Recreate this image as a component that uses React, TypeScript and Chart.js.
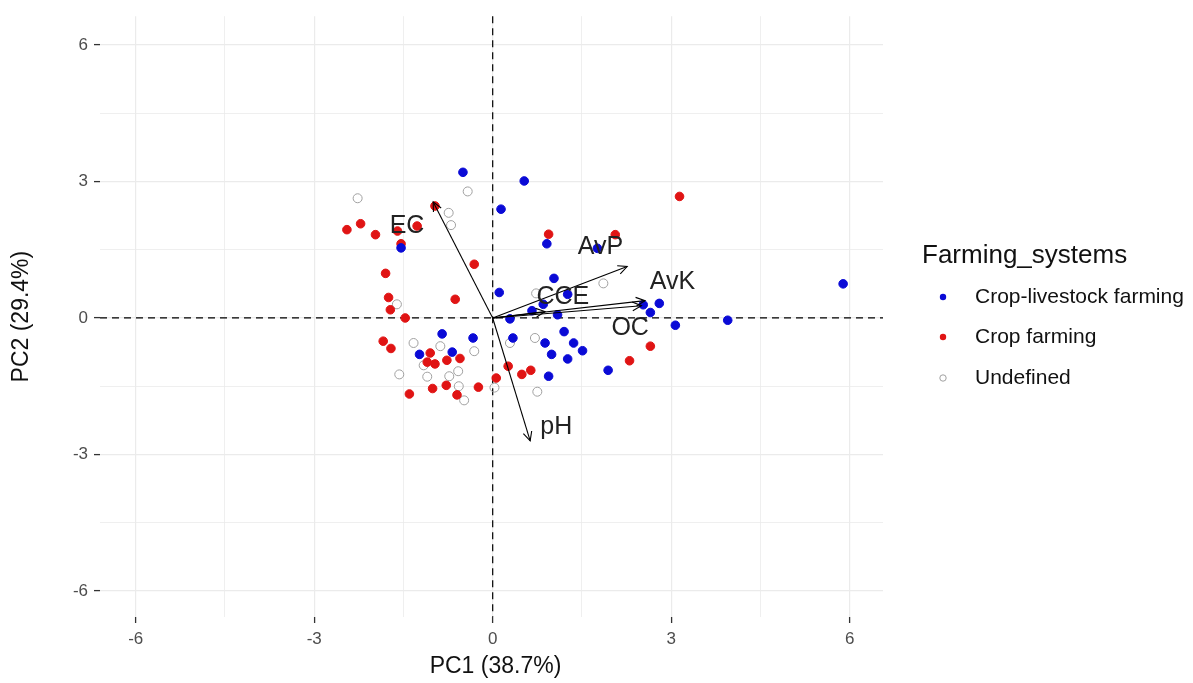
import React, { useEffect, useRef } from "react";
import { Chart, registerables } from "chart.js";

Chart.register(...registerables);

// ---- Data ----
const seriesNames = ["Crop-livestock farming", "Crop farming", "Undefined"];

const cropLivestockX = [-0.5, 0.53, 0.14, -1.54, 0.91, 1.76, 1.03, 0.11, 1.26, 0.85, 0.66, 1.09, 0.29, 2.53, 2.8, 2.65, 3.07, 1.94, 1.2, 0.88, 1.36, 1.51, 0.99, 1.26, 0.94, 0.34, -0.85, -0.33, -1.23, -0.68, 5.89, 3.95];
const cropLivestockY = [3.2, 3.01, 2.39, 1.54, 1.63, 1.53, 0.87, 0.56, 0.52, 0.3, 0.16, 0.07, -0.02, 0.29, 0.32, 0.12, -0.16, -1.15, -0.3, -0.55, -0.55, -0.72, -0.8, -0.9, -1.28, -0.44, -0.35, -0.44, -0.8, -0.75, 0.75, -0.05];

const cropFarmingX = [-0.97, -2.45, -2.22, -1.97, -1.6, -1.27, -1.54, -0.31, -1.8, -1.75, -1.72, -1.47, -0.63, -1.84, -1.71, -1.05, -0.55, -0.77, -1.1, -0.97, 0.26, 0.49, 0.64, 0.06, -1.4, -1.01, -0.78, -0.6, -0.24, 0.94, 2.06, 3.14, 2.65, 2.3];
const cropFarmingY = [2.46, 1.94, 2.07, 1.83, 1.91, 2.02, 1.63, 1.18, 0.98, 0.45, 0.18, 0.0, 0.41, -0.51, -0.67, -0.77, -0.89, -0.93, -0.97, -1.01, -1.06, -1.24, -1.15, -1.32, -1.67, -1.55, -1.48, -1.69, -1.52, 1.84, 1.83, 2.67, -0.62, -0.94];

const undefinedX = [-2.27, -0.42, -0.74, -0.7, -1.61, -1.33, -0.88, -0.31, -1.16, -0.58, -0.73, -1.57, -1.1, 0.03, -0.57, -0.48, 0.29, 0.71, 1.86, 0.75, 0.73];
const undefinedY = [2.63, 2.78, 2.31, 2.04, 0.3, -0.55, -0.62, -0.73, -1.04, -1.17, -1.28, -1.24, -1.29, -1.53, -1.5, -1.81, -0.55, -0.44, 0.76, -1.62, 0.54];

// Variable loading arrows
const varNames = ["EC", "AvP", "AvK", "OC", "CCE", "pH"];
const varTipX = [-1.0, 2.26, 2.56, 2.5, 0.88, 0.63];
const varTipY = [2.55, 1.13, 0.38, 0.27, 0.14, -2.7];
const varLabelX = [-1.44, 1.81, 3.02, 2.31, 1.18, 1.07];
const varLabelY = [2.02, 1.56, 0.78, -0.23, 0.45, -2.39];

const axisTicks = [-6, -4.5, -3, -1.5, 0, 1.5, 3, 4.5, 6];
const xLabel = "PC1 (38.7%)";
const yLabel = "PC2 (29.4%)";
const legendTitle = "Farming_systems";

const colors = ["#0a0ad6", "#e01414", "#a0a0a0"];

const FONT = '"Liberation Sans", Arial, sans-serif';

function toPoints(xs: number[], ys: number[]) {
  return xs.map((x, i) => ({ x, y: ys[i] }));
}

function drawArrow(ctx: CanvasRenderingContext2D, x0: number, y0: number, x1: number, y1: number) {
  const ang = Math.atan2(y1 - y0, x1 - x0);
  const head = 10;
  const spread = Math.PI / 7;
  ctx.beginPath();
  ctx.moveTo(x0, y0);
  ctx.lineTo(x1, y1);
  ctx.stroke();
  ctx.beginPath();
  ctx.moveTo(x1 - head * Math.cos(ang - spread), y1 - head * Math.sin(ang - spread));
  ctx.lineTo(x1, y1);
  ctx.lineTo(x1 - head * Math.cos(ang + spread), y1 - head * Math.sin(ang + spread));
  ctx.stroke();
}

const biplotPlugin = {
  id: "biplot",
  beforeDatasetsDraw(chart: any) {
    const { ctx, chartArea, scales } = chart;
    const x0 = scales.x.getPixelForValue(0);
    const y0 = scales.y.getPixelForValue(0);
    ctx.save();
    ctx.strokeStyle = "#000";
    ctx.lineWidth = 1.2;
    ctx.setLineDash([7, 5]);
    ctx.beginPath();
    ctx.moveTo(chartArea.left, y0);
    ctx.lineTo(chartArea.right, y0);
    ctx.moveTo(x0, chartArea.top);
    ctx.lineTo(x0, chartArea.bottom);
    ctx.stroke();
    ctx.restore();
  },
  afterDatasetsDraw(chart: any) {
    const { ctx, scales } = chart;
    const ox = scales.x.getPixelForValue(0);
    const oy = scales.y.getPixelForValue(0);
    ctx.save();
    ctx.strokeStyle = "#000";
    ctx.lineWidth = 1.1;
    ctx.setLineDash([]);
    varNames.forEach((_, i) => {
      drawArrow(ctx, ox, oy, scales.x.getPixelForValue(varTipX[i]), scales.y.getPixelForValue(varTipY[i]));
    });
    ctx.fillStyle = "#222";
    ctx.font = `25px ${FONT}`;
    ctx.textAlign = "center";
    ctx.textBaseline = "middle";
    varNames.forEach((name, i) => {
      ctx.fillText(name, scales.x.getPixelForValue(varLabelX[i]), scales.y.getPixelForValue(varLabelY[i]));
    });
    ctx.restore();
  },
  afterDraw(chart: any) {
    const { ctx, chartArea } = chart;
    ctx.save();
    // axis titles
    ctx.fillStyle = "#111";
    ctx.font = `23px ${FONT}`;
    ctx.textAlign = "center";
    ctx.textBaseline = "middle";
    ctx.fillText(xLabel, (chartArea.left + chartArea.right) / 2 + 4, 667);
    ctx.save();
    ctx.translate(22, (chartArea.top + chartArea.bottom) / 2);
    ctx.rotate(-Math.PI / 2);
    ctx.fillText(yLabel, 0, 0);
    ctx.restore();
    // legend
    ctx.textAlign = "left";
    ctx.fillStyle = "#111";
    ctx.font = `26px ${FONT}`;
    ctx.fillText(legendTitle, 922, 256);
    const ys = [297, 337, 378];
    seriesNames.forEach((name, i) => {
      ctx.beginPath();
      ctx.arc(943, ys[i], 3.2, 0, Math.PI * 2);
      if (i < 2) {
        ctx.fillStyle = colors[i];
        ctx.fill();
      } else {
        ctx.strokeStyle = colors[i];
        ctx.lineWidth = 1;
        ctx.stroke();
      }
      ctx.fillStyle = "#111";
      ctx.font = `21px ${FONT}`;
      ctx.fillText(name, 975, ys[i]);
    });
    ctx.restore();
  },
};

export default function App() {
  const ref = useRef<HTMLCanvasElement | null>(null);
  useEffect(() => {
    if (!ref.current) return;
    const gridColor = "#ebebeb";
    const tickOpts = () => ({
      grid: {
        color: gridColor,
        lineWidth: (c: any) => (c.tick && c.tick.value % 3 === 0 ? 1.2 : 0.8),
        drawTicks: true,
        tickLength: 6,
        tickColor: (c: any) => (c.tick && c.tick.value % 3 === 0 ? "#333" : "rgba(0,0,0,0)"),
        tickWidth: 1.3,
      },
      border: { display: false },
      ticks: {
        color: "#4d4d4d",
        font: { family: FONT, size: 17 },
        padding: 6,
        autoSkip: false,
        maxRotation: 0,
        callback: (v: any) => (Number(v) % 3 === 0 ? String(v) : ""),
      },
      afterBuildTicks: (scale: any) => {
        scale.ticks = axisTicks.map((v) => ({ value: v }));
      },
    });
    const chart = new Chart(ref.current, {
      type: "scatter",
      data: {
        datasets: [
          {
            label: seriesNames[0],
            data: toPoints(cropLivestockX, cropLivestockY),
            backgroundColor: colors[0],
            borderColor: colors[0],
            borderWidth: 1,
            pointRadius: 4.3,
          },
          {
            label: seriesNames[1],
            data: toPoints(cropFarmingX, cropFarmingY),
            backgroundColor: colors[1],
            borderColor: colors[1],
            borderWidth: 1,
            pointRadius: 4.3,
          },
          {
            label: seriesNames[2],
            data: toPoints(undefinedX, undefinedY),
            backgroundColor: "rgba(255,255,255,0)",
            borderColor: colors[2],
            borderWidth: 1,
            pointRadius: 4.5,
          },
        ],
      },
      options: {
        animation: false,
        responsive: false,
        maintainAspectRatio: false,
        devicePixelRatio: 1,
        layout: { padding: { left: 0, top: 13, right: 310, bottom: 0 } },
        plugins: { legend: { display: false }, tooltip: { enabled: false } },
        scales: {
          x: {
            type: "linear",
            min: -6.6,
            max: 6.56,
            ...tickOpts(),
            afterFit: (scale: any) => {
              scale.height = 66;
            },
          } as any,
          y: {
            type: "linear",
            min: -6.57,
            max: 6.63,
            ...tickOpts(),
            afterFit: (scale: any) => {
              scale.width = 100;
            },
          } as any,
        },
      },
      plugins: [biplotPlugin],
    });
    return () => chart.destroy();
  }, []);
  return (
    <div style={{ position: "fixed", left: 0, top: 0, width: 1193, height: 683, background: "#fff" }}>
      <canvas ref={ref} width={1193} height={683} style={{ display: "block", width: 1193, height: 683 }} />
    </div>
  );
}
